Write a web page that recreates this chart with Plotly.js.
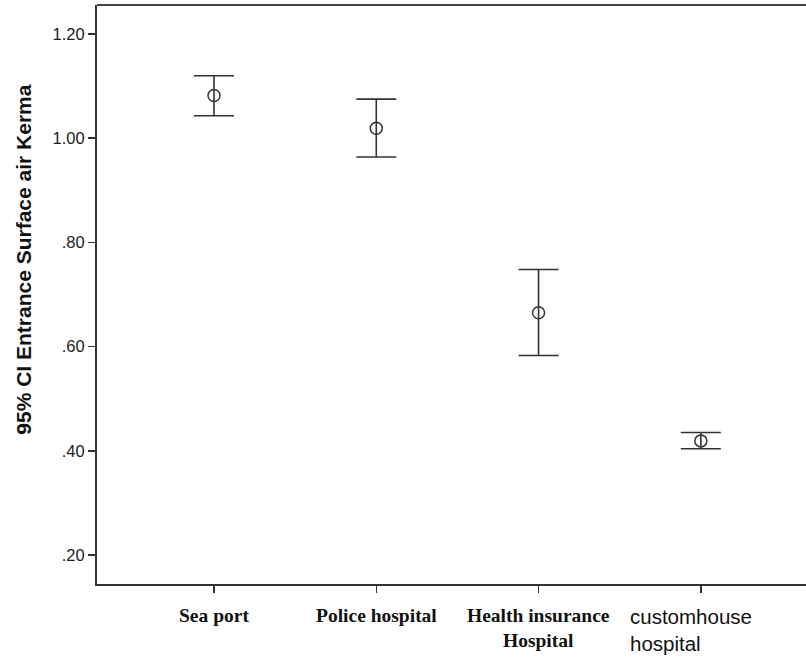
<!DOCTYPE html>
<html>
<head>
<meta charset="utf-8">
<script src="https://cdn.plot.ly/plotly-3.0.1.min.js"></script>
<style>html,body{margin:0;padding:0;background:#fff;}#chart{width:806px;height:658px;}</style>
</head>
<body>
<div id="chart"></div>
<script>
const categories = ["Sea port", "Police hospital", "Health insurance Hospital", "customhouse hospital"];
const meanValues = [1.082, 1.019, 0.665, 0.419];
const upperCI = [1.120, 1.075, 0.748, 0.435];
const lowerCI = [1.043, 0.964, 0.583, 0.404];
const yTickVals = [0.2, 0.4, 0.6, 0.8, 1.0, 1.2];
const yTickText = [".20", ".40", ".60", ".80", "1.00", "1.20"];
const xLabels = ["Sea port", "Police hospital", "Health insurance<br>Hospital", "customhouse<br>hospital"];
const yTitle = "95% CI Entrance Surface air Kerma";

const xIdx = categories.map((c, i) => i);
const errPlus = upperCI.map((u, i) => u - meanValues[i]);
const errMinus = lowerCI.map((l, i) => meanValues[i] - l);

const trace = {
  x: xIdx, y: meanValues, type: "scatter", mode: "markers",
  marker: {symbol: "circle-open", size: 12, color: "#333", line: {width: 1.5, color: "#333"}},
  error_y: {type: "data", array: errPlus, arrayminus: errMinus, visible: true, color: "#333", thickness: 1.6, width: 20},
  hoverinfo: "skip", showlegend: false
};

const serifFont = {family: "Liberation Serif, Times New Roman, serif", size: 19.5, color: "#111", weight: "bold"};
const sansFont = {family: "Liberation Sans, Arial, sans-serif", size: 20.5, color: "#111"};

const annotations = xLabels.map((t, i) => {
  const last = i === xLabels.length - 1;
  return {
    x: last ? i - 0.45 : i, xref: "x", y: -0.033, yref: "paper",
    text: t, showarrow: false, yanchor: "top",
    xanchor: last ? "left" : "center", align: last ? "left" : "center",
    font: last ? sansFont : serifFont
  };
});
annotations.push({
  x: -0.103, xref: "paper", y: 0.56, yref: "paper", text: yTitle, textangle: -90,
  showarrow: false, xanchor: "center", yanchor: "middle",
  font: {family: "Liberation Sans, Arial, sans-serif", size: 21, color: "#111", weight: "bold"}
});

const layout = {
  width: 806, height: 658,
  margin: {l: 97, r: 0, t: 5, b: 74},
  paper_bgcolor: "#fff", plot_bgcolor: "#fff",
  xaxis: {range: [-0.721, 3.648], tickvals: xIdx, showticklabels: false, ticks: "outside", ticklen: 7,
          tickwidth: 1.5, tickcolor: "#333", showline: true, linecolor: "#333", linewidth: 2,
          showgrid: false, zeroline: false},
  yaxis: {range: [0.1443, 1.2557], tickvals: yTickVals, ticktext: yTickText, ticks: "outside", ticklen: 7,
          tickwidth: 1.5, tickcolor: "#333", showline: true, linecolor: "#333", linewidth: 2,
          showgrid: false, zeroline: false,
          tickfont: {family: "Liberation Sans, Arial, sans-serif", size: 16.5, color: "#222"}},
  shapes: [{type: "line", xref: "paper", yref: "paper", x0: 0, x1: 1, y0: 1, y1: 1, line: {color: "#444", width: 2}}],
  annotations: annotations
};

Plotly.newPlot("chart", [trace], layout, {displayModeBar: false, staticPlot: true});
</script>
</body>
</html>
